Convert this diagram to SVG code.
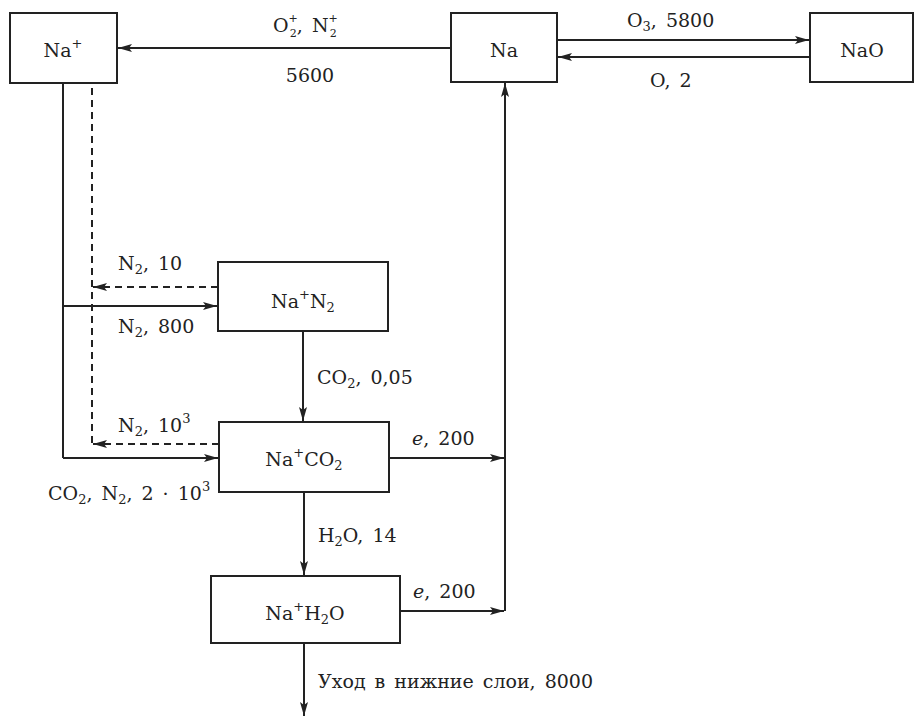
<svg xmlns="http://www.w3.org/2000/svg" width="915" height="717" viewBox="0 0 915 717">
<defs>
<marker id="ah" markerUnits="userSpaceOnUse" markerWidth="16" markerHeight="12" refX="14" refY="5" orient="auto" viewBox="0 0 16 10">
<path d="M0,1 L14,5 L0,9 L3,5 Z" fill="#222"/>
</marker>
</defs>
<style>
.box{fill:#fff;stroke:#222;stroke-width:2}
.ln{fill:none;stroke:#222;stroke-width:2}
.ar{fill:none;stroke:#222;stroke-width:2;marker-end:url(#ah)}
.da{stroke-dasharray:7,5}
text{font-family:"DejaVu Serif","Liberation Serif",serif;font-size:19px;fill:#222;word-spacing:3px}
.c{text-anchor:middle}
.s{font-size:13px}
.t{font-size:11px}
</style>
<rect width="915" height="717" fill="#fff"/>
<g id="connectors">
<line class="ar" x1="451" y1="48" x2="118" y2="48"/>
<line class="ar" x1="557" y1="40" x2="809" y2="40"/>
<line class="ar" x1="810" y1="57" x2="558" y2="57"/>
<line class="ar" x1="505" y1="611" x2="505" y2="83"/>
<polyline class="ln" points="63,83 63,458"/>
<line class="ar" x1="63" y1="306" x2="217" y2="306"/>
<line class="ar" x1="63" y1="458" x2="218" y2="458"/>
<line class="ln da" x1="92" y1="88" x2="92" y2="444"/>
<line class="ar da" x1="218" y1="287" x2="93" y2="287"/>
<line class="ar da" x1="219" y1="444" x2="93" y2="444"/>
<line class="ar" x1="303" y1="331" x2="303" y2="421"/>
<line class="ar" x1="389" y1="458" x2="504" y2="458"/>
<line class="ar" x1="304" y1="492" x2="304" y2="575"/>
<line class="ar" x1="400" y1="611" x2="504" y2="611"/>
<line class="ar" x1="304" y1="643" x2="304" y2="716"/>
</g>
<g id="node-naplus">
<rect class="box" x="10" y="13" width="107" height="70"/>
<text x="63" y="57" class="c">Na<tspan class="s" dy="-9">+</tspan></text>
</g>
<g id="node-na">
<rect class="box" x="451" y="13" width="106" height="69"/>
<text x="504" y="57" class="c">Na</text>
</g>
<g id="node-nao">
<rect class="box" x="810" y="13" width="103" height="69"/>
<text x="862" y="57" class="c">NaO</text>
</g>
<g id="node-nan2">
<rect class="box" x="218" y="262" width="170" height="69"/>
<text x="303" y="308" class="c">Na<tspan class="s" dy="-9">+</tspan><tspan dy="9">N</tspan><tspan class="s" dy="4">2</tspan></text>
</g>
<g id="node-naco2">
<rect class="box" x="219" y="422" width="170" height="70"/>
<text x="304" y="466" class="c">Na<tspan class="s" dy="-9">+</tspan><tspan dy="9">CO</tspan><tspan class="s" dy="4">2</tspan></text>
</g>
<g id="node-nah2o">
<rect class="box" x="211" y="576" width="189" height="67"/>
<text x="305" y="620" class="c">Na<tspan class="s" dy="-9">+</tspan><tspan dy="9">H</tspan><tspan class="s" dy="4">2</tspan><tspan dy="-4">O</tspan></text>
</g>
<g id="labels">
<text x="273" y="32">O<tspan class="t" dy="-10">+</tspan><tspan class="t" dx="-8" dy="15">2</tspan><tspan dy="-5">, N</tspan><tspan class="t" dy="-10">+</tspan><tspan class="t" dx="-8" dy="15">2</tspan></text>
<text x="310" y="82" class="c">5600</text>
<text x="627" y="27">O<tspan class="s" dy="4">3</tspan><tspan dy="-4">, 5800</tspan></text>
<text x="650" y="87">O, 2</text>
<text x="118" y="270">N<tspan class="s" dy="4">2</tspan><tspan dy="-4">, 10</tspan></text>
<text x="118" y="333">N<tspan class="s" dy="4">2</tspan><tspan dy="-4">, 800</tspan></text>
<text x="317" y="384">CO<tspan class="s" dy="4">2</tspan><tspan dy="-4">, 0,05</tspan></text>
<text x="118" y="432">N<tspan class="s" dy="4">2</tspan><tspan dy="-4">, 10</tspan><tspan class="s" dy="-9">3</tspan></text>
<text x="48" y="500">CO<tspan class="s" dy="4">2</tspan><tspan dy="-4">, N</tspan><tspan class="s" dy="4">2</tspan><tspan dy="-4">, 2 · 10</tspan><tspan class="s" dy="-9">3</tspan></text>
<text x="412" y="445"><tspan font-style="italic">e</tspan>, 200</text>
<text x="318" y="542">H<tspan class="s" dy="4">2</tspan><tspan dy="-4">O, 14</tspan></text>
<text x="413" y="598"><tspan font-style="italic">e</tspan>, 200</text>
<text x="318" y="688">Уход в нижние слои, 8000</text>
</g>
</svg>
